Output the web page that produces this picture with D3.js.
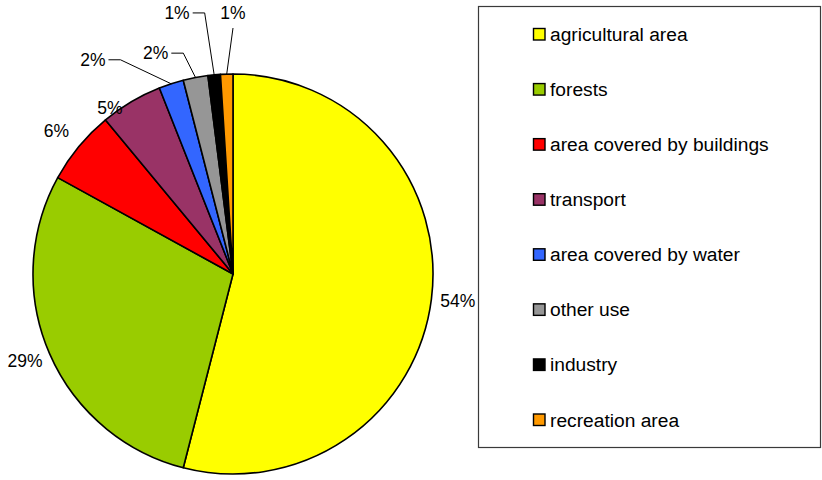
<!DOCTYPE html>
<html>
<head>
<meta charset="utf-8">
<script src="https://cdn.jsdelivr.net/npm/d3@7"></script>
<style>
  html, body { margin: 0; padding: 0; background: #fff; }
  svg { display: block; font-family: "Liberation Sans", Arial, sans-serif; }
</style>
</head>
<body>
<svg id="chart" width="822" height="480"></svg>
<script>
// ---- data ----
const categories = ["agricultural area", "forests", "area covered by buildings", "transport",
                    "area covered by water", "other use", "industry", "recreation area"];
const values = [54, 29, 6, 5, 2, 2, 1, 1];
const labels = ["54%", "29%", "6%", "5%", "2%", "2%", "1%", "1%"];
const colors = ["#FFFF00", "#99CC00", "#FF0000", "#993366", "#3366FF", "#969696", "#000000", "#FF9900"];

// ---- layout ----
const W = 822, H = 480;
const cx = 233, cy = 274, R = 200;
// label placement (polar: angle in degrees clockwise from top, distance from centre); null = automatic
const labelPolar = [null, null, [308.9, 227], [323.5, 207], [326.8, 256], [340.7, 234], [347.9, 267], [0, 261]];
const leader = [false, false, false, false, true, true, true, true];

const svg = d3.select("#chart");
const g = svg.append("g").attr("transform", `translate(${cx},${cy})`);

const pie = d3.pie().sort(null).value(d => d)(values);
const arc = d3.arc().innerRadius(0).outerRadius(R);

g.selectAll("path.slice").data(pie).join("path")
  .attr("class", "slice")
  .attr("d", arc)
  .attr("fill", (d, i) => colors[i])
  .attr("stroke", "#000")
  .attr("stroke-width", 1.6)
  .attr("stroke-linejoin", "round");

const deg = Math.PI / 180;
function polar(aRad, r) { return [Math.sin(aRad) * r, -Math.cos(aRad) * r]; }

const labelSel = g.selectAll("text.lbl").data(pie).join("text")
  .attr("class", "lbl")
  .attr("font-size", 17.5)
  .attr("fill", "#000")
  .attr("text-anchor", "middle")
  .attr("dominant-baseline", "central")
  .text((d, i) => labels[i])
  .each(function (d, i) {
    const mid = (d.startAngle + d.endAngle) / 2;
    let p;
    if (labelPolar[i]) {
      p = polar(labelPolar[i][0] * deg, labelPolar[i][1]);
    } else {
      const bb = this.getBBox();
      const dir = polar(mid, 1);
      const r0 = R + 9;
      p = [dir[0] * r0 + dir[0] * bb.width / 2, dir[1] * r0 + dir[1] * bb.height / 2];
    }
    d3.select(this).attr("x", p[0]).attr("y", p[1]);
  });

// leader lines
labelSel.each(function (d, i) {
  if (!leader[i]) return;
  const bb = this.getBBox();
  const mid = (d.startAngle + d.endAngle) / 2;
  const end = polar(mid, R);
  const yc = bb.y + bb.height / 2;
  let pts;
  if (end[0] > bb.x + bb.width + 12) {
    const sx = bb.x + bb.width + 3;
    pts = [[sx, yc], [sx + 12, yc], end];
  } else {
    pts = [[bb.x + bb.width / 2, bb.y + bb.height + 5], end];
  }
  g.append("path")
    .attr("d", d3.line()(pts))
    .attr("fill", "none")
    .attr("stroke", "#000")
    .attr("stroke-width", 1);
});

// ---- legend ----
const lx = 478.5, ly = 6.5, lw = 342, lh = 441;
svg.append("rect")
  .attr("x", lx).attr("y", ly).attr("width", lw).attr("height", lh)
  .attr("fill", "#fff").attr("stroke", "#3a3a3a").attr("stroke-width", 1.2);

const rowY = d3.scalePoint().domain(categories).range([34.5, 420]);
const leg = svg.append("g").selectAll("g").data(categories).join("g")
  .attr("transform", d => `translate(533,${rowY(d)})`);
leg.append("rect")
  .attr("x", 0.5).attr("y", -6).attr("width", 11.5).attr("height", 11.5)
  .attr("fill", (d, i) => colors[i])
  .attr("stroke", "#000").attr("stroke-width", 1.4);
leg.append("text")
  .attr("x", 17).attr("y", 0)
  .attr("dominant-baseline", "central")
  .attr("font-size", 19.2)
  .attr("fill", "#000")
  .text(d => d);
</script>
</body>
</html>
